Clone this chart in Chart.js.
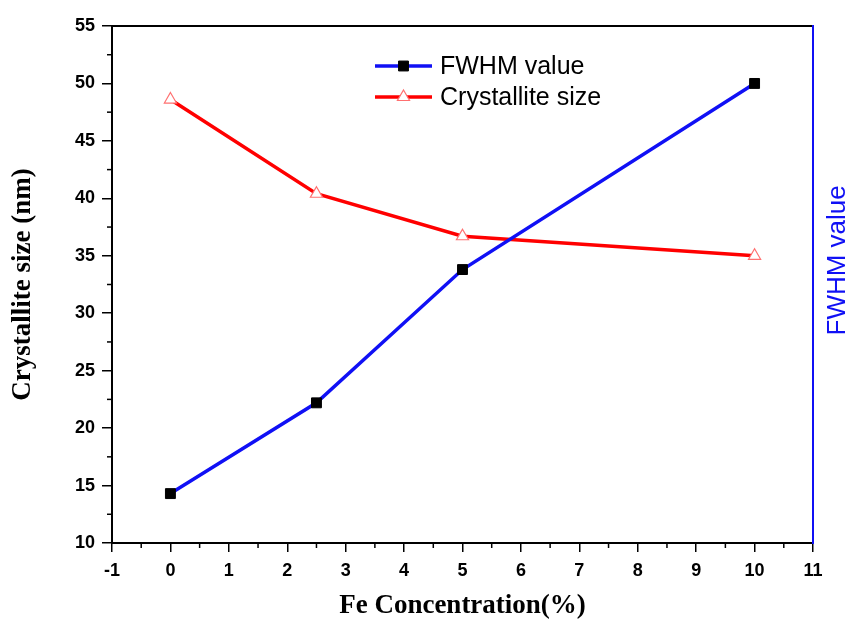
<!DOCTYPE html>
<html>
<head>
<meta charset="utf-8">
<script src="https://cdn.jsdelivr.net/npm/chart.js@4/dist/chart.umd.min.js"></script>
<style>
  html, body { margin: 0; padding: 0; background: #fff; }
  canvas { display: block; }
</style>
</head>
<body>
<canvas id="chart" width="853" height="622"></canvas>
<script>
// data
const feConc = [0, 2.5, 5, 10];
const fwhmValue = [14.3, 22.2, 33.8, 50.0];
const crystalliteSize = [48.6, 40.4, 36.7, 35.0];
const xRange = [-1, 11];
const yRange = [10, 55];

const BLUE = "#1010f5";
const ctx = document.getElementById("chart").getContext("2d");

// short minor ticks halfway between the labelled ones
const minorTicks = {
  id: "minorTicks",
  afterDraw(chart) {
    const c = chart.ctx;
    const xs = chart.scales.x;
    const ys = chart.scales.y;
    c.save();
    c.strokeStyle = "#000";
    c.lineWidth = 1.5;
    for (let v = xRange[0] + 0.5; v < xRange[1]; v += 1) {
      const px = xs.getPixelForValue(v);
      c.beginPath();
      c.moveTo(px, xs.top);
      c.lineTo(px, xs.top + 5);
      c.stroke();
    }
    for (let v = yRange[0] + 2.5; v < yRange[1]; v += 5) {
      const py = ys.getPixelForValue(v);
      c.beginPath();
      c.moveTo(ys.right, py);
      c.lineTo(ys.right - 5, py);
      c.stroke();
    }
    c.restore();
  }
};

// right axis title reads bottom-to-top in the original
const rightTitle = {
  id: "rightTitle",
  afterDraw(chart) {
    const c = chart.ctx;
    const s = chart.scales.y1;
    c.save();
    c.translate(s.right - 15, s.getPixelForValue(34.6));
    c.rotate(-Math.PI / 2);
    c.fillStyle = BLUE;
    c.font = "26px 'Liberation Sans', Arial, sans-serif";
    c.textAlign = "center";
    c.textBaseline = "middle";
    c.fillText("FWHM value", 0, 0);
    c.restore();
  }
};

// legend box inside the plot, like the original
const innerLegend = {
  id: "innerLegend",
  afterDatasetsDraw(chart) {
    const c = chart.ctx;
    const x0 = 375, y0 = 66, rowH = 31, lineLen = 57;
    c.save();
    chart.data.datasets.forEach((ds, i) => {
      const y = y0 + i * rowH;
      c.strokeStyle = ds.borderColor;
      c.lineWidth = ds.borderWidth;
      c.beginPath();
      c.moveTo(x0, y);
      c.lineTo(x0 + lineLen, y);
      c.stroke();
      c.fillStyle = ds.pointBackgroundColor;
      c.strokeStyle = ds.pointBorderColor;
      c.lineWidth = ds.pointBorderWidth;
      Chart.helpers.drawPoint(c, {
        pointStyle: ds.pointStyle,
        radius: ds.pointRadius,
        borderWidth: ds.pointBorderWidth
      }, x0 + lineLen / 2, y);
      c.fillStyle = "#000";
      c.font = "25px 'Liberation Sans', Arial, sans-serif";
      c.textBaseline = "middle";
      c.fillText(ds.label, x0 + lineLen + 8, y + 1);
    });
    c.restore();
  }
};

const tickFont = { family: "'Liberation Sans', Arial, sans-serif", size: 18, weight: "bold" };
const titleFont = { family: "'Liberation Serif', 'Times New Roman', serif", size: 27, weight: "bold" };

new Chart(ctx, {
  type: "line",
  data: {
    datasets: [
      {
        label: "FWHM value",
        data: feConc.map((x, i) => ({ x: x, y: fwhmValue[i] })),
        yAxisID: "y1",
        borderColor: BLUE,
        borderWidth: 3.5,
        pointStyle: "rect",
        pointRadius: 7,
        pointBackgroundColor: "#000",
        pointBorderColor: "#000",
        pointBorderWidth: 1,
        tension: 0
      },
      {
        label: "Crystallite size",
        data: feConc.map((x, i) => ({ x: x, y: crystalliteSize[i] })),
        yAxisID: "y",
        borderColor: "#ff0000",
        borderWidth: 3.5,
        pointStyle: "triangle",
        pointRadius: 7,
        pointBackgroundColor: "#fff",
        pointBorderColor: "#ff7070",
        pointBorderWidth: 1.2,
        tension: 0
      }
    ]
  },
  options: {
    responsive: false,
    animation: false,
    layout: { padding: 0 },
    plugins: {
      legend: { display: false },
      tooltip: { enabled: false }
    },
    scales: {
      x: {
        type: "linear",
        position: "bottom",
        min: xRange[0],
        max: xRange[1],
        ticks: { stepSize: 1, color: "#000", font: tickFont, padding: 8 },
        grid: { drawOnChartArea: false, tickLength: 9, color: "#000", lineWidth: 1.5 },
        border: { color: "#000", width: 2 },
        title: { display: true, text: "Fe Concentration(%)", color: "#000", font: titleFont, padding: { top: 0, bottom: 0 } },
        afterFit(scale) { scale.height = 79; }
      },
      x2: {
        type: "linear",
        position: "top",
        min: xRange[0],
        max: xRange[1],
        ticks: { display: false },
        grid: { drawOnChartArea: false, drawTicks: false },
        border: { color: "#000", width: 2 },
        afterFit(scale) { scale.height = 26; }
      },
      y: {
        position: "left",
        min: yRange[0],
        max: yRange[1],
        ticks: { stepSize: 5, color: "#000", font: tickFont, padding: 7 },
        grid: { drawOnChartArea: false, tickLength: 10, color: "#000", lineWidth: 1.5 },
        border: { color: "#000", width: 2 },
        title: { display: true, text: "Crystallite size (nm)", color: "#000", font: titleFont, padding: { top: 7, bottom: 0 } },
        afterFit(scale) { scale.width = 112; }
      },
      y1: {
        position: "right",
        min: yRange[0],
        max: yRange[1],
        ticks: { display: false },
        grid: { drawOnChartArea: false, drawTicks: false },
        border: { color: BLUE, width: 2 },
        afterFit(scale) { scale.width = 40; }
      }
    }
  },
  plugins: [minorTicks, rightTitle, innerLegend]
});
</script>
</body>
</html>
